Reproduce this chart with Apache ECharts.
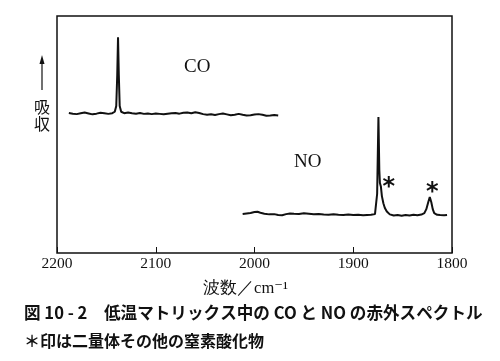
<!DOCTYPE html>
<html><head><meta charset="utf-8">
<script src="https://cdn.jsdelivr.net/npm/echarts@6/dist/echarts.min.js"></script>
<style>html,body{margin:0;padding:0;background:#fff}#c{width:500px;height:361px}</style>
</head><body><div id="c"></div>
<script>
// Wavenumber (cm^-1) and absorbance (arbitrary units)
const coWave = [2188,2184,2180,2176,2172,2168,2164,2160,2156,2152,2148,2144,2141.5,2140,2139,2138.2,2137.4,2136.5,2135,2132,2128,2124,2120,2116,2112,2108,2104,2100,2096,2092,2088,2084,2080,2076,2072,2068,2064,2060,2056,2052,2048,2044,2040,2036,2032,2028,2024,2020,2016,2012,2008,2004,2000,1996,1992,1988,1984,1980,1976];
const coAbs  = [59.1,58.8,58.6,59.0,59.3,58.9,58.5,58.8,59.2,59.0,58.7,59.0,59.6,62,75,91,75,62,59.6,59.0,59.3,59.0,58.8,59.1,58.7,58.9,58.6,58.9,58.7,58.5,58.8,59.0,59.1,58.8,59.2,59.3,59.0,59.4,59.1,58.6,58.3,58.5,58.2,58.6,58.9,58.5,58.1,58.3,58.7,58.3,58.0,58.1,58.4,58.6,58.3,57.9,58.0,58.2,58.0];

const noWave = [2012,2008,2004,2000,1997,1994,1990,1985,1980,1976,1972,1968,1964,1960,1955,1950,1945,1940,1935,1930,1925,1920,1915,1910,1905,1900,1895,1890,1886,1882,1878,1877,1875.8,1874.5,1873.6,1873.0,1872,1871,1869.5,1868,1866,1863,1859,1855,1851,1847,1843,1839,1835,1831,1828,1826,1824,1822.5,1821,1819.5,1818,1815,1812,1808,1805];
const noAbs  = [16.5,16.7,16.9,17.3,17.4,17.0,16.6,16.3,16.4,16.0,15.9,16.4,16.7,16.6,16.5,16.8,16.6,16.4,16.5,16.2,16.1,16.3,16.1,16.0,16.2,16.0,16.1,15.9,16.0,16.1,16.4,16.6,25,57.4,35,29.5,28,24,21,19,17.5,16.3,15.8,16.0,15.7,16.0,15.8,16.1,15.9,16.2,16.8,18.5,21.5,23.6,21.5,18.5,16.8,16.1,16.0,15.9,16.0];

const xTicks = [2200,2100,2000,1900,1800];
const labels = [
  {name:'CO', coord:[2058,78.5]},
  {name:'NO', coord:[1946,38.4]}
];
const stars = [
  {name:'*', coord:[1864,27.5]},
  {name:'*', coord:[1820,25.4]}
];

const zip = (a,b)=>a.map((v,i)=>[v,b[i]]);
const chart = echarts.init(document.getElementById('c'));
const serif = '"Liberation Serif","DejaVu Serif",serif';
const cjk = '"Noto Sans CJK JP","Noto Sans CJK SC",sans-serif';
chart.setOption({
  animation:false,
  grid:{left:57,right:48,top:16,bottom:108,show:true,borderColor:'#111',borderWidth:1.5,backgroundColor:'transparent'},
  xAxis:{type:'value',min:1800,max:2200,interval:100,inverse:true,
    axisLine:{show:false},
    axisTick:{show:true,inside:true,length:6,lineStyle:{color:'#111',width:1}},
    splitLine:{show:false},
    axisLabel:{color:'#111',fontFamily:serif,fontSize:15.5,margin:3,
      formatter:v=>xTicks.includes(v)?String(v):''},
    name:'波数／cm⁻¹',nameLocation:'middle',nameGap:27,
    nameTextStyle:{color:'#111',fontFamily:serif,fontSize:16.5,padding:[0,18,0,0]}
  },
  yAxis:{type:'value',min:0,max:100,show:false},
  graphic:[
    {type:'line',shape:{x1:42,y1:90,x2:42,y2:62},style:{stroke:'#111',lineWidth:1.2}},
    {type:'polygon',shape:{points:[[42,55],[39.5,64],[44.5,64]]},style:{fill:'#111'}},
    {type:'text',left:34,top:99,style:{text:'吸',font:'16px '+cjk,fill:'#111'}},
    {type:'text',left:34,top:116,style:{text:'収',font:'16px '+cjk,fill:'#111'}},
    {type:'text',left:24,top:304,style:{text:'図 10 - 2　低温マトリックス中の CO と NO の赤外スペクトル',font:'bold 16.6px '+cjk,fill:'#111'}},
    {type:'text',left:24,top:333,style:{text:'＊印は二量体その他の窒素酸化物',font:'bold 16px '+cjk,fill:'#111'}}
  ],
  series:[
    {type:'line',data:zip(coWave,coAbs),showSymbol:false,lineStyle:{color:'#111',width:2},
      markPoint:{symbolSize:0,data:labels.map(l=>({coord:l.coord,value:l.name})),
        label:{show:true,position:'inside',formatter:p=>p.value,color:'#111',fontFamily:serif,fontSize:19}}},
    {type:'line',data:zip(noWave,noAbs),showSymbol:false,lineStyle:{color:'#111',width:2},
      markPoint:{symbolSize:0,data:stars.map(l=>({coord:l.coord,value:l.name})),
        label:{show:true,position:'inside',formatter:'*',color:'#111',fontFamily:'"DejaVu Sans",sans-serif',fontWeight:'bold',fontSize:24}}}
  ]
});
</script></body></html>
